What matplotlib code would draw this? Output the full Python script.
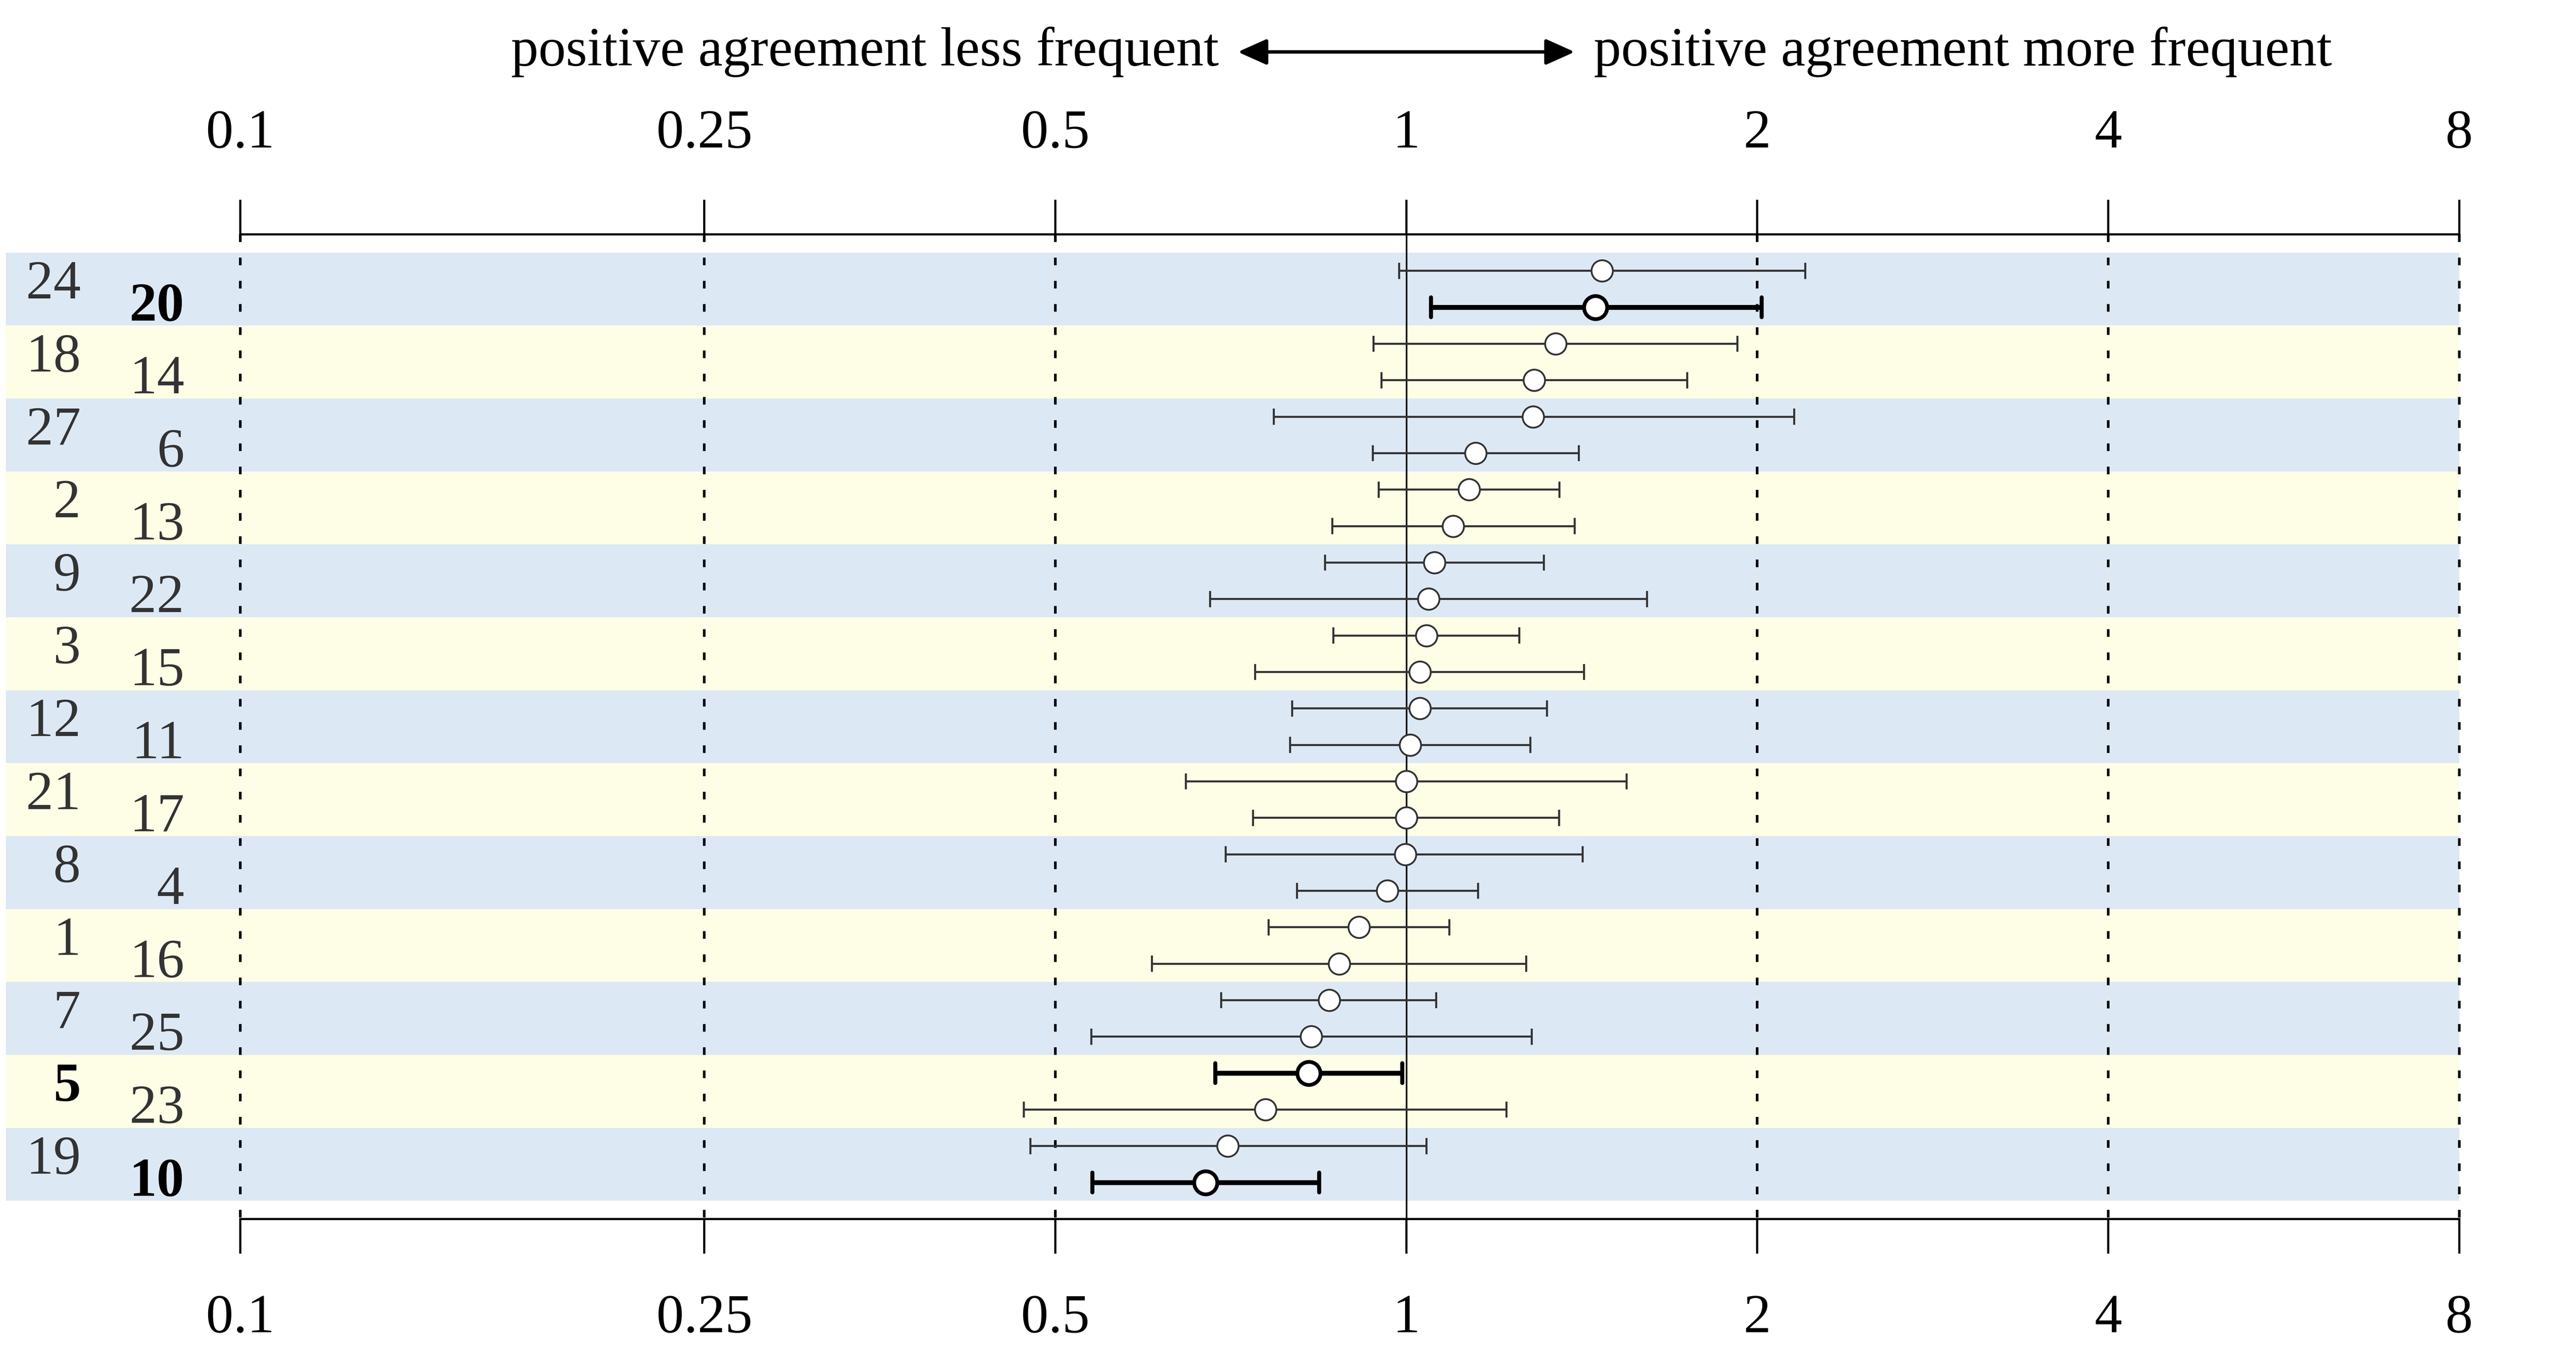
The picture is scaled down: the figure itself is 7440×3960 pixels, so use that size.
import matplotlib
matplotlib.use("Agg")
import matplotlib.pyplot as plt
from matplotlib.patches import Rectangle, FancyArrowPatch
import numpy as np

# ---- data (top to bottom) ----
labels = ["24", "20", "18", "14", "27", "6", "2", "13", "9", "22", "3", "15", "12",
          "11", "21", "17", "8", "4", "1", "16", "7", "25", "5", "23", "19", "10"]
bold_labels = ["20", "5", "10"]
estimate = [1.472, 1.453, 1.343, 1.287, 1.285, 1.147, 1.132, 1.097, 1.057, 1.045,
            1.041, 1.027, 1.027, 1.008, 1.0, 1.0, 0.998, 0.963, 0.911, 0.876,
            0.859, 0.829, 0.825, 0.757, 0.703, 0.673]
ci_low = [0.986, 1.05, 0.937, 0.952, 0.77, 0.936, 0.947, 0.864, 0.852, 0.679,
          0.866, 0.742, 0.798, 0.795, 0.647, 0.739, 0.70, 0.806, 0.762, 0.605,
          0.694, 0.537, 0.686, 0.470, 0.476, 0.538]
ci_high = [2.198, 2.017, 1.923, 1.742, 2.151, 1.406, 1.353, 1.394, 1.312, 1.609,
           1.25, 1.42, 1.32, 1.278, 1.545, 1.352, 1.417, 1.152, 1.089, 1.267,
           1.061, 1.281, 0.992, 1.219, 1.041, 0.842]
tick_values = [0.1, 0.25, 0.5, 1, 2, 4, 8]
tick_labels = ["0.1", "0.25", "0.5", "1", "2", "4", "8"]
header_left = "positive agreement less frequent"
header_right = "positive agreement more frequent"

plt.rcParams["lines.scale_dashes"] = False
FONT = "Liberation Serif"
W, H = 7440, 3960
DPI = 300
fig = plt.figure(figsize=(W / DPI, H / DPI), dpi=DPI)

left_px, right_px = 694, 7103
top_px, bot_px = 677, 3521
ax = fig.add_axes([left_px / W, 1 - bot_px / H, (right_px - left_px) / W, (bot_px - top_px) / H])
ax.set_xscale("log")
ax.set_xlim(0.1, 8)
n = len(labels)
ax.set_ylim(n, -1)
ax.patch.set_alpha(0)

BLUE = "#DDE8F5"
YELLOW = "#FEFEE6"
band_x0 = (17 - left_px) / (right_px - left_px)
ytr = ax.get_yaxis_transform()
for b in range(n // 2):
    ax.add_patch(Rectangle((band_x0, 2 * b - 0.5), 1 - band_x0, 2,
                           transform=ytr, facecolor=BLUE if b % 2 == 0 else YELLOW,
                           edgecolor="none", clip_on=False, zorder=0))

# grid lines
for v in tick_values:
    if v == 1:
        ax.plot([v, v], [-1, n], color="black", lw=1.1, zorder=2, clip_on=False)
    else:
        ax.plot([v, v], [-1, n], color="black", lw=1.8, zorder=1, clip_on=False,
                linestyle=(0, (5.3, 10.8)))

# error bars and points
for i in range(n):
    bold = labels[i] in bold_labels
    col = "black" if bold else "#333333"
    lw = 3.4 if bold else 1.4
    caph = 0.27 if bold else 0.22
    capw = 2.8 if bold else 1.4
    ax.plot([ci_low[i], ci_high[i]], [i, i], color=col, lw=lw, zorder=3,
            solid_capstyle="butt")
    for c in (ci_low[i], ci_high[i]):
        ax.plot([c, c], [i - caph, i + caph], color=col, lw=capw, zorder=3,
                solid_capstyle="round" if bold else "butt")
    ax.plot([estimate[i]], [i], marker="o", markersize=16.0 if bold else 14.8,
            markerfacecolor="white", markeredgecolor=col,
            markeredgewidth=2.6 if bold else 1.25, zorder=4, linestyle="none")

# row labels
for i, lab in enumerate(labels):
    bold = lab in bold_labels
    if i % 2 == 0:
        x, y = (233 - left_px) / (right_px - left_px), i + 0.755
    else:
        x, y = (532 - left_px) / (right_px - left_px), i + 0.36
    ax.text(x, y, lab, transform=ytr, ha="right", va="baseline",
            fontsize=38, family=FONT, fontweight="bold" if bold else "normal",
            color="black" if bold else "#333333", clip_on=False)

# axes styling
for s in ("left", "right"):
    ax.spines[s].set_visible(False)
for s in ("top", "bottom"):
    ax.spines[s].set_linewidth(1.5)
    ax.spines[s].set_zorder(5)
ax.set_xticks(tick_values)
ax.set_xticklabels(tick_labels)
ax.xaxis.set_minor_locator(matplotlib.ticker.NullLocator())
ax.set_yticks([])
ax.tick_params(axis="x", which="major", top=True, bottom=True, labeltop=True,
               labelbottom=True, direction="out", length=24, width=1.5,
               labelsize=38, color="black")
ax.xaxis.set_tick_params(which="major", pad=28)
ax.tick_params(axis="x", which="major", labelfontfamily=FONT)

# header
fig.text(3520 / W, 1 - 189 / H, header_left, ha="right", va="baseline",
         fontsize=38, family=FONT)
fig.text(4603 / W, 1 - 189 / H, header_right, ha="left", va="baseline",
         fontsize=38, family=FONT)
arrow = FancyArrowPatch((3575 / W, 1 - 150 / H), (4548 / W, 1 - 150 / H),
                        transform=fig.transFigure,
                        arrowstyle="<|-|>,head_length=0.85,head_width=0.38",
                        mutation_scale=20, lw=2.4, color="black",
                        shrinkA=0, shrinkB=0)
fig.add_artist(arrow)

fig.savefig("out.png", dpi=DPI)
